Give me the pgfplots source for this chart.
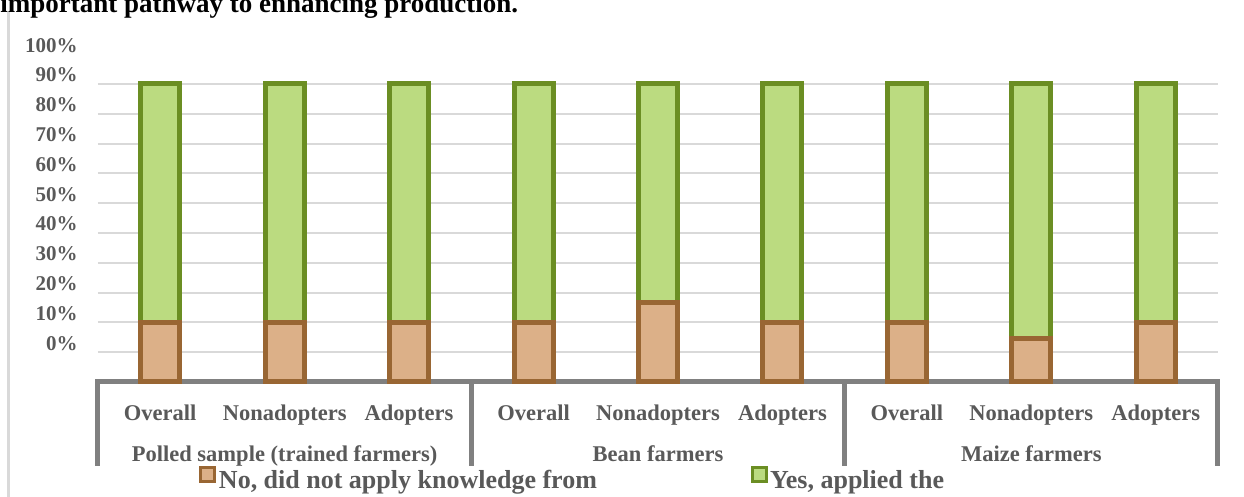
\documentclass[border=0pt]{standalone}
\usepackage{fontspec}
\setmainfont{Liberation Serif}
\usepackage{pgfplots}
\pgfplotsset{compat=1.18}
\definecolor{txt}{HTML}{595959}
\definecolor{brownF}{HTML}{DCB088}
\definecolor{brownE}{HTML}{996633}
\definecolor{greenF}{HTML}{BBDB80}
\definecolor{greenE}{HTML}{6B8E23}
\definecolor{gridc}{HTML}{D9D9D9}
\definecolor{framec}{HTML}{808080}
\begin{document}
\begin{tikzpicture}
\useasboundingbox (0,0) rectangle (622pt,248.5pt);
\clip (0,0) rectangle (622pt,248.5pt);
\draw[gridc, line width=1.5pt] (4.2pt,242.5pt) -- (4.2pt,-1pt);
\node[anchor=base west, inner sep=0pt, font=\bfseries\fontsize{13.5}{16}\selectfont] at (0pt,242pt) {important pathway to enhancing production.};
\begin{axis}[
  at={(49pt,57.5pt)}, anchor=south west,
  scale only axis, width=560pt, height=163.9pt,
  xmin=-0.5, xmax=8.5, ymin=0, ymax=110,
  ybar stacked, bar width=19.5pt,
  axis line style={draw=none},
  tick style={draw=none},
  major tick length=0pt,
  clip=false,
  xtick={0,...,8},
  xticklabels={Overall,Nonadopters,Adopters,Overall,Nonadopters,Adopters,Overall,Nonadopters,Adopters},
  xticklabel style={anchor=base, yshift=-19.5pt, inner sep=0pt, font=\bfseries\fontsize{11.25}{13}\selectfont, text=txt},
  ytick={10,20,30,40,50,60,70,80,90,100},
  yticklabels={0\%,10\%,20\%,30\%,40\%,50\%,60\%,70\%,80\%,90\%},
  extra y ticks={110}, extra y tick labels={100\%},
  extra y tick style={grid=none},
  ymajorgrids, major grid style={gridc, line width=1pt},
  yticklabel style={anchor=base east, inner sep=0pt, xshift=-10pt, yshift=1pt, font=\bfseries\fontsize{10.5}{12}\selectfont, text=txt},
  legend columns=2,
  legend style={at={(rel axis cs:0.0884,-0.2955)}, anchor=west, draw=none, fill=none,
    inner sep=0pt, outer sep=0pt,
    font=\bfseries\fontsize{13}{15}\selectfont, text=txt,
    nodes={inner sep=0pt},
    /tikz/every odd column/.append style={column sep=0pt},
    /tikz/every even column/.append style={column sep=75.5pt}},
  legend image code/.code={\path (0pt,0pt) (8.5pt,0pt); \draw[#1, line width=1.5pt] (0.75pt,-0.25pt) rectangle (7.75pt,6.75pt);},
]
\addplot[fill=brownF, draw=brownE, line width=2.5pt] coordinates {(0,20) (1,20) (2,20) (3,20) (4,26.7) (5,20) (6,20) (7,14.7) (8,20)};
\addlegendentry{No, did not apply knowledge from}
\addplot[fill=greenF, draw=greenE, line width=2.5pt] coordinates {(0,80) (1,80) (2,80) (3,80) (4,73.3) (5,80) (6,80) (7,85.3) (8,80)};
\addlegendentry{Yes, applied the}
\draw[framec, line width=2.5pt, line join=miter] ([yshift=-42pt]axis cs:-0.5,0) -- (axis cs:-0.5,0) -- (axis cs:8.5,0) -- ([yshift=-42pt]axis cs:8.5,0);
\draw[framec, line width=2.5pt] (axis cs:2.5,0) -- ([yshift=-42pt]axis cs:2.5,0);
\draw[framec, line width=2.5pt] (axis cs:5.5,0) -- ([yshift=-42pt]axis cs:5.5,0);
\node[anchor=base, inner sep=0pt, yshift=-39.85pt, font=\bfseries\fontsize{11.25}{13}\selectfont, text=txt] at (axis cs:1,0) {Polled sample (trained farmers)};
\node[anchor=base, inner sep=0pt, yshift=-39.85pt, font=\bfseries\fontsize{11.25}{13}\selectfont, text=txt] at (axis cs:4,0) {Bean farmers};
\node[anchor=base, inner sep=0pt, yshift=-39.85pt, font=\bfseries\fontsize{11.25}{13}\selectfont, text=txt] at (axis cs:7,0) {Maize farmers};
\end{axis}
\end{tikzpicture}
\end{document}
